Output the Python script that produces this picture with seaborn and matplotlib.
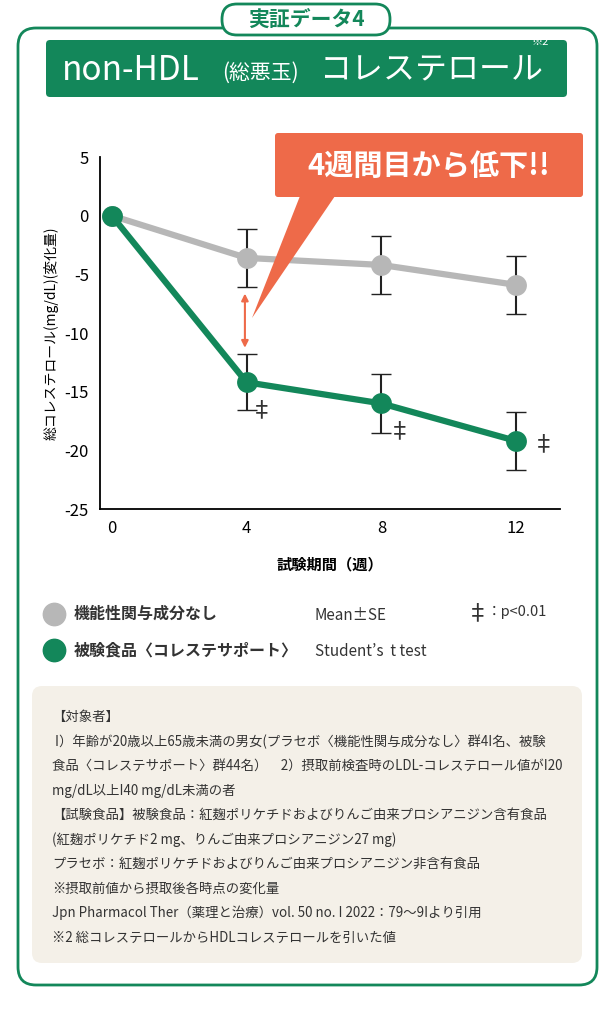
import matplotlib
matplotlib.use("Agg")
import matplotlib.pyplot as plt
import seaborn as sns
import pandas as pd
from matplotlib.patches import FancyBboxPatch, Polygon

plt.rcParams["font.family"] = "Noto Sans CJK JP"
plt.rcParams["axes.unicode_minus"] = False

weeks = [0, 4, 8, 12]
placebo = [0, -3.6, -4.2, -5.9]
placebo_se = [0, 2.45, 2.45, 2.5]
food = [0, -14.2, -16.0, -19.2]
food_se = [0, 2.4, 2.5, 2.45]
yticks = [5, 0, -5, -10, -15, -20, -25]

W, H = 614, 1010
fig = plt.figure(figsize=(W/100, H/100), dpi=100)
GREEN = "#13875a"; GREY = "#b7b7b7"; ORANGE = "#ee6a49"

bg = fig.add_axes([0, 0, 1, 1]); bg.set_xlim(0, W); bg.set_ylim(H, 0); bg.axis("off")
bg.add_patch(FancyBboxPatch((18, 28), 579, 957, boxstyle="round,pad=0,rounding_size=18",
                            fc="white", ec=GREEN, lw=2))
bg.add_patch(FancyBboxPatch((46, 40), 521, 57, boxstyle="round,pad=0,rounding_size=4",
                            fc=GREEN, ec="none"))
bg.add_patch(FancyBboxPatch((222, 4), 168, 31, boxstyle="round,pad=0,rounding_size=15",
                            fc="white", ec=GREEN, lw=2))
bg.text(306, 19, "実証データ4", ha="center", va="center", color=GREEN, fontsize=15, fontweight="bold")
bg.text(62, 70, "non-HDL", ha="left", va="center", color="white", fontsize=24)
bg.text(222, 73, "(総悪玉)", ha="left", va="center", color="white", fontsize=15)
bg.text(320, 70, "コレステロール", ha="left", va="center", color="white", fontsize=23)
bg.text(540, 42, "※2", ha="center", va="center", color="white", fontsize=8)
# note box
bg.add_patch(FancyBboxPatch((32, 686), 550, 277, boxstyle="round,pad=0,rounding_size=10",
                            fc="#f4f0e8", ec="none"))
notes = ["【対象者】",
         " I）年齢が20歳以上65歳未満の男女(プラセボ〈機能性関与成分なし〉群4I名、被験",
         "食品〈コレステサポート〉群44名）　2）摂取前検査時のLDL-コレステロール値がI20",
         "mg/dL以上I40 mg/dL未満の者",
         "【試験食品】被験食品：紅麹ポリケチドおよびりんご由来プロシアニジン含有食品",
         "(紅麹ポリケチド2 mg、りんご由来プロシアニジン27 mg)",
         "プラセボ：紅麹ポリケチドおよびりんご由来プロシアニジン非含有食品",
         "※摂取前値から摂取後各時点の変化量",
         "Jpn Pharmacol Ther（薬理と治療）vol. 50 no. I 2022：79〜9Iより引用",
         "※2 総コレステロールからHDLコレステロールを引いた値"]
for i, t in enumerate(notes):
    bg.text(52, 717 + i*24.5, t, ha="left", va="center", fontsize=9.6, color="#333333")
# legend
bg.scatter([54], [614], s=260, color=GREY); bg.scatter([54], [650], s=260, color=GREEN)
bg.text(74, 614, "機能性関与成分なし", va="center", fontsize=11.5, fontweight="bold", color="#333")
bg.text(74, 650, "被験食品〈コレステサポート〉", va="center", fontsize=11.5, fontweight="bold", color="#333")
bg.text(315, 616, "Mean±SE", va="center", fontsize=11, color="#333")
bg.text(315, 651, "Student’s  t test", va="center", fontsize=11, color="#333")
bg.text(466, 614, "‡", va="center", fontsize=17, color="#333")
bg.text(487, 612, "：p<0.01", va="center", fontsize=10.5, color="#333")

ax = fig.add_axes([100/W, 1-509/H, 460/W, 352/H])
ax.patch.set_alpha(0)
df = pd.DataFrame({"week": weeks*2, "val": placebo+food,
                   "grp": ["placebo"]*4 + ["food"]*4})
sns.lineplot(data=df, x="week", y="val", hue="grp", palette={"placebo": GREY, "food": GREEN},
             marker="o", markersize=15, markeredgewidth=0, linewidth=4.5, legend=False, ax=ax, zorder=3)
ax.errorbar(weeks[1:], placebo[1:], yerr=placebo_se[1:], fmt="none", ecolor="#222", capsize=7, lw=1.5, zorder=2)
ax.errorbar(weeks[1:], food[1:], yerr=food_se[1:], fmt="none", ecolor="#222", capsize=7, lw=1.5, zorder=2)
for w, v, dx, dy in zip(weeks[1:], food[1:], [0.45, 0.55, 0.8], [-2.4, -2.4, -0.3]):
    ax.text(w + dx, v + dy, "‡", fontsize=17, ha="center", va="center", color="#333")
ax.annotate("", xy=(3.95, -11.5), xytext=(3.95, -6.4),
            arrowprops=dict(arrowstyle="<|-|>", color=ORANGE, lw=1.5, mutation_scale=10))
ax.set_xlim(-0.35, 13.3); ax.set_ylim(-25, 5)
ax.set_xticks(weeks); ax.set_yticks(yticks)
ax.tick_params(length=0, labelsize=12, pad=8)
ax.set_xlabel("試験期間（週）", fontsize=11, fontweight="bold", labelpad=14)
ax.set_ylabel("総コレステロール(mg/dL)(変化量)", fontsize=10, labelpad=4)
for s in ["top", "right"]:
    ax.spines[s].set_visible(False)
ax.spines["left"].set_linewidth(1.3); ax.spines["bottom"].set_linewidth(1.3)

# callout overlay on top
ov = fig.add_axes([0, 0, 1, 1]); ov.set_xlim(0, W); ov.set_ylim(H, 0); ov.axis("off")
ov.patch.set_alpha(0)
ov.add_patch(Polygon([(300, 196), (335, 196), (252, 318)], closed=True, fc=ORANGE, ec="none"))
ov.add_patch(FancyBboxPatch((275, 133), 308, 64, boxstyle="round,pad=0,rounding_size=3",
                            fc=ORANGE, ec="none"))
ov.text(429, 166, "4週間目から低下!!", ha="center", va="center", color="white", fontsize=21, fontweight="bold")
fig.savefig("out.png", dpi=100)
